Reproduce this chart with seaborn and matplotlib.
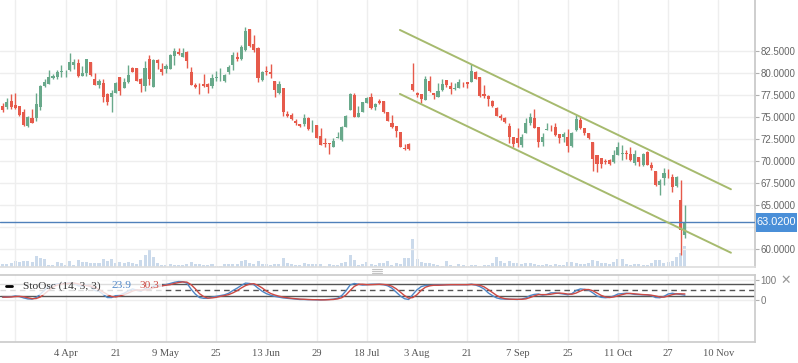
import numpy as np
import pandas as pd
import matplotlib
matplotlib.use("Agg")
import matplotlib.pyplot as plt
import matplotlib.transforms as mtransforms
from matplotlib.lines import Line2D
from matplotlib.patches import Rectangle
import seaborn as sns

# ---- values (one entry per trading day) ----
opens = [
    76.21, 76.06, 76.78, 76.33, 76.21, 75.53, 73.98, 74.89, 74.81, 76.14,
    78.48, 78.75, 79.43, 79.47, 80.11, 80.17, 80.30, 80.87, 81.10, 79.66,
    80.00, 81.21, 79.28, 78.64, 78.83, 77.58, 77.23, 77.73, 79.51, 78.30,
    78.94, 80.53, 80.49, 79.24, 78.52, 81.52, 78.41, 81.44, 80.42, 80.45,
    80.45, 81.89, 82.31, 81.82, 82.39, 80.08, 78.56, 78.41, 78.67, 78.71,
    78.52, 79.43, 79.47, 79.05, 80.08, 80.87, 81.74, 81.52, 82.58, 84.92,
    83.26, 82.77, 79.17, 80.19, 80.11, 79.02, 77.73, 78.26, 75.30, 75.19,
    74.55, 74.17, 74.17, 74.85, 74.02, 74.05, 72.77, 72.00, 72.05, 71.59,
    72.61, 72.35, 73.86, 75.76, 77.46, 75.00, 75.57, 76.59, 77.20, 76.06,
    76.78, 76.78, 75.49, 74.32, 73.94, 73.30, 71.48, 71.86, 78.71, 77.65,
    77.58, 76.89, 79.09, 77.73, 77.27, 78.03, 79.17, 78.48, 78.11, 78.30,
    78.62, 78.98, 78.98, 80.04, 79.47, 77.58, 77.35, 76.78, 75.95, 75.08,
    74.81, 73.94, 72.73, 72.61, 71.78, 73.18, 74.32, 74.81, 73.86, 72.16,
    73.54, 73.73, 73.79, 72.99, 72.65, 72.73, 71.70, 73.48, 74.62, 73.67,
    73.18, 72.17, 70.65, 70.27, 69.93, 70.08, 69.81, 70.65, 70.76, 70.91,
    70.76, 69.70, 70.38, 69.51, 71.03, 69.51, 68.86, 67.22, 68.10, 68.40,
    68.17, 67.15, 65.51, 61.60,
]
highs = [
    76.52, 77.08, 77.58, 77.65, 76.21, 75.83, 75.08, 75.87, 77.65, 78.60,
    79.24, 80.30, 79.85, 80.30, 80.87, 80.30, 82.27, 81.52, 81.55, 80.76,
    81.55, 81.21, 79.92, 79.24, 79.32, 77.73, 78.03, 78.98, 79.51, 79.36,
    80.87, 80.68, 80.57, 79.36, 81.33, 82.01, 81.52, 81.52, 81.06, 80.98,
    82.16, 82.77, 82.84, 82.77, 82.50, 80.64, 78.79, 78.79, 79.85, 78.79,
    79.85, 80.19, 80.49, 79.85, 80.87, 82.39, 82.39, 83.14, 85.15, 84.92,
    84.28, 82.88, 80.23, 80.76, 80.95, 79.02, 79.05, 78.26, 75.64, 75.45,
    74.73, 74.17, 75.27, 74.92, 74.62, 74.05, 73.75, 72.54, 72.05, 72.54,
    73.30, 73.94, 75.19, 77.65, 77.65, 76.21, 76.67, 77.20, 77.73, 76.59,
    77.01, 76.78, 75.49, 75.15, 73.94, 73.30, 71.86, 71.97, 81.14, 77.84,
    77.58, 79.62, 79.62, 77.73, 78.86, 79.24, 79.17, 78.98, 78.86, 79.28,
    78.90, 78.98, 80.98, 80.19, 79.47, 78.60, 77.46, 76.89, 76.06, 75.27,
    74.92, 74.32, 72.73, 73.67, 73.03, 74.81, 75.45, 75.87, 73.86, 73.18,
    74.32, 74.05, 74.24, 72.99, 73.30, 73.56, 73.26, 75.19, 75.00, 73.67,
    73.18, 72.17, 70.65, 70.27, 70.15, 70.15, 71.22, 72.17, 71.79, 71.22,
    71.60, 71.22, 70.38, 70.91, 71.10, 69.89, 68.86, 67.98, 69.13, 69.05,
    68.56, 68.25, 67.79, 64.98,
]
lows = [
    75.57, 75.83, 75.83, 75.91, 75.08, 73.94, 73.86, 74.24, 74.55, 75.76,
    78.33, 78.75, 79.24, 79.32, 79.55, 79.55, 80.19, 80.45, 79.55, 79.66,
    79.62, 79.66, 78.64, 78.26, 76.70, 76.33, 75.57, 77.65, 77.46, 78.22,
    78.86, 80.11, 79.09, 77.84, 77.92, 78.60, 78.41, 80.38, 79.73, 79.92,
    80.38, 80.87, 81.97, 81.74, 80.57, 78.56, 78.22, 77.54, 78.33, 77.73,
    78.22, 79.05, 79.05, 78.98, 79.85, 80.30, 81.36, 81.44, 82.50, 82.95,
    82.39, 78.98, 79.09, 79.73, 79.43, 77.27, 77.54, 75.08, 75.00, 74.62,
    74.05, 73.79, 73.94, 73.48, 73.30, 72.61, 71.78, 71.59, 70.76, 71.52,
    72.54, 72.23, 73.86, 75.76, 75.00, 75.00, 75.57, 76.52, 75.83, 75.76,
    76.44, 75.38, 74.55, 73.67, 72.65, 71.52, 71.21, 71.21, 77.95, 77.20,
    76.52, 76.89, 77.84, 76.97, 77.27, 77.92, 78.41, 77.54, 78.03, 78.22,
    78.33, 78.22, 78.98, 79.24, 77.27, 77.08, 76.21, 76.14, 75.08, 74.62,
    74.24, 71.97, 71.59, 71.59, 71.59, 73.18, 74.05, 73.67, 71.52, 71.70,
    73.48, 73.41, 72.80, 71.97, 72.16, 71.02, 71.59, 73.41, 73.56, 72.92,
    72.42, 68.86, 68.75, 69.13, 69.62, 69.51, 69.77, 70.65, 70.08, 70.15,
    70.00, 69.51, 69.39, 69.43, 69.51, 69.01, 67.11, 66.08, 67.22, 68.10,
    66.46, 67.03, 59.35, 61.20,
]
closes = [
    75.76, 76.67, 76.06, 76.02, 75.19, 74.05, 75.00, 74.32, 76.44, 78.48,
    78.94, 79.51, 79.62, 80.08, 80.19, 80.20, 81.21, 81.21, 79.62, 79.96,
    81.55, 79.73, 78.64, 79.09, 77.27, 76.70, 77.69, 78.83, 77.95, 78.94,
    79.73, 80.11, 79.09, 78.75, 80.53, 79.32, 81.44, 81.14, 80.11, 80.76,
    81.97, 82.46, 82.16, 82.20, 81.36, 78.64, 78.37, 78.33, 78.48, 78.33,
    79.36, 79.51, 79.48, 79.70, 80.61, 81.97, 81.55, 82.92, 84.73, 83.07,
    82.58, 79.43, 80.08, 80.08, 79.81, 78.03, 78.71, 75.57, 75.11, 74.73,
    74.32, 73.94, 74.81, 73.64, 74.07, 72.61, 71.78, 71.95, 71.93, 72.27,
    72.73, 73.83, 75.11, 77.54, 75.00, 75.38, 76.67, 77.08, 75.95, 76.44,
    76.59, 75.49, 74.55, 73.79, 73.41, 71.59, 71.33, 71.29, 78.03, 77.50,
    76.97, 79.28, 77.95, 77.50, 77.95, 78.67, 78.60, 78.11, 78.30, 78.90,
    78.58, 78.67, 80.19, 79.32, 77.35, 77.39, 76.97, 76.21, 75.11, 74.81,
    74.43, 72.73, 71.89, 72.05, 72.73, 74.32, 74.92, 73.75, 72.16, 72.73,
    73.58, 73.69, 72.92, 72.61, 72.99, 71.70, 73.18, 74.70, 73.67, 73.11,
    72.61, 70.19, 69.62, 69.62, 69.86, 69.62, 70.65, 71.60, 70.91, 70.76,
    70.08, 70.76, 69.89, 70.76, 69.51, 69.13, 67.22, 67.72, 68.63, 68.35,
    67.03, 68.17, 62.10, 63.02,
]
# volume, thousands of contracts
volumes = [
    30, 33, 43, 63, 53, 63, 63, 53, 113, 93,
    83, 23, 23, 53, 43, 23, 63, 23, 73, 53,
    53, 43, 43, 43, 83, 63, 83, 43, 53, 43,
    53, 43, 33, 73, 123, 173, 103, 43, 23, 23,
    33, 23, 23, 23, 33, 53, 33, 33, 23, 23,
    33, 13, 13, 33, 33, 33, 33, 63, 73, 43,
    33, 63, 33, 33, 23, 33, 33, 93, 43, 33,
    23, 23, 43, 33, 33, 33, 33, 13, 33, 23,
    23, 43, 53, 123, 73, 23, 33, 53, 33, 23,
    43, 43, 63, 23, 43, 33, 93, 93, 283, 83,
    53, 43, 43, 33, 23, 13, 63, 23, 13, 33,
    23, 13, 23, 23, 13, 23, 23, 43, 103, 63,
    43, 63, 43, 43, 33, 43, 43, 33, 23, 23,
    33, 23, 33, 23, 23, 53, 53, 43, 33, 33,
    43, 73, 63, 43, 43, 33, 53, 83, 83, 33,
    23, 33, 33, 20, 20, 40, 70, 70, 37, 47,
    63, 100, 140, 206,
]
stoch_k = [
    13, 15, 16, 20, 17, 10, 5, 4, 12, 30,
    50, 68, 78, 82, 84, 84, 88, 86, 72, 70,
    78, 66, 48, 44, 28, 12, 12, 22, 26, 34,
    46, 56, 50, 44, 58, 55, 70, 74, 72, 78,
    84, 90, 94, 93, 86, 55, 30, 12, 8, 8,
    14, 18, 22, 26, 34, 48, 60, 74, 86, 84,
    78, 60, 44, 32, 24, 18, 14, 10, 8, 6,
    4, 2, 2, 1, 1, 0, 0, 1, 2, 4,
    8, 22, 46, 76, 84, 80, 76, 78, 80, 80,
    80, 78, 72, 60, 40, 20, 6, 2, 28, 52,
    68, 74, 74, 76, 76, 77, 78, 78, 78, 78,
    78, 78, 80, 76, 68, 56, 36, 22, 10, 5,
    4, 3, 3, 2, 4, 10, 22, 28, 30, 24,
    28, 36, 36, 33, 30, 26, 32, 48, 56, 54,
    50, 36, 20, 13, 11, 13, 20, 30, 32, 34,
    32, 28, 27, 26, 25, 22, 12, 11, 18, 30,
    34, 30, 28, 23.9,
]
stoch_d = [
    14, 14, 15, 17, 18, 16, 11, 6, 7, 15,
    31, 49, 65, 76, 81, 83, 85, 86, 82, 76,
    73, 71, 64, 53, 40, 28, 17, 15, 20, 27,
    35, 45, 51, 50, 51, 52, 61, 66, 72, 75,
    78, 84, 89, 92, 91, 78, 57, 32, 17, 9,
    10, 13, 18, 22, 27, 36, 47, 61, 73, 81,
    83, 74, 61, 45, 33, 25, 19, 14, 11, 8,
    6, 4, 3, 2, 1, 1, 0, 0, 1, 2,
    5, 11, 25, 48, 69, 80, 80, 78, 78, 79,
    80, 79, 77, 70, 57, 40, 22, 9, 12, 27,
    49, 65, 72, 75, 75, 76, 77, 78, 78, 78,
    78, 78, 79, 78, 75, 67, 53, 38, 23, 12,
    6, 4, 3, 3, 3, 5, 12, 20, 27, 27,
    27, 29, 33, 35, 33, 30, 29, 35, 45, 53,
    53, 47, 35, 23, 15, 12, 15, 21, 27, 32,
    33, 31, 29, 27, 26, 24, 20, 15, 14, 20,
    27, 31, 31, 30.3,
]
date_labels = ["", "4 Apr", "21", "9 May", "25", "13 Jun", "29", "18 Jul",
               "3 Aug", "21", "7 Sep", "25", "11 Oct", "27", "10 Nov"]
price_ticks = [60.0, 62.5, 65.0, 67.5, 70.0, 72.5, 75.0, 77.5, 80.0, 82.5]
last_price = 63.02
channel_x = [94.9, 174.0]
channel_upper = [84.85, 66.77]
channel_lower = [77.59, 59.57]

# ---- style ----
sns.set_theme(style="white")
plt.rcParams['font.family'] = ['Liberation Sans', 'DejaVu Sans']

GREEN = '#69a98b'
RED = '#e65a4b'
VOL = '#cbdaeb'
GRID = '#eeeeee'
K_COL = '#4f86c6'
D_COL = '#cc4a44'
CHAN = '#a6ba6e'

W, H = 798, 363
fig = plt.figure(figsize=(W / 100, H / 100), dpi=100)


def px_box(x0, y0, x1, y1):
    return [x0 / W, 1 - y1 / H, (x1 - x0) / W, (y1 - y0) / H]


ax_vol = fig.add_axes(px_box(0, 0, 755, 267))
ax = fig.add_axes(px_box(0, 0, 755, 267), sharex=ax_vol)
ax_st = fig.add_axes(px_box(0, 275.3, 755, 342), sharex=ax_vol)

df = pd.DataFrame({'open': opens, 'high': highs, 'low': lows,
                   'close': closes, 'volume': volumes})
df['idx'] = np.arange(len(df))
up = df['close'] >= df['open']
colors = np.where(up, GREEN, RED)

# volume bars (behind the candles)
ax_vol.bar(df['idx'], df['volume'], width=0.72, color=VOL, linewidth=0)
ax_vol.set_ylim(0, 2670)
ax_vol.axis('off')

# candles
ax.patch.set_visible(False)
ax.vlines(df['idx'], df['low'], df['high'], colors=colors, lw=1.0, zorder=3)
body_low = df[['open', 'close']].min(axis=1)
body_h = (df['close'] - df['open']).abs().clip(lower=0.07)
ax.bar(df['idx'], body_h, bottom=body_low, width=0.74, color=colors,
       linewidth=0, zorder=4)

# trend channel
ax.plot(channel_x, channel_upper, color=CHAN, lw=1.4, zorder=6)
ax.plot(channel_x, channel_lower, color=CHAN, lw=1.4, zorder=6)

ax.set_xlim(-0.657, 179.75)
ax.set_ylim(57.95, 88.25)

# last price line + box (the box hides the tick label behind it)
ax.axhline(last_price, color='#4f80ba', lw=1, zorder=5)
trans = mtransforms.blended_transform_factory(ax.transAxes, ax.transData)
px_per_unit = 267 / (88.25 - 57.95)
box_half = 9.5 / px_per_unit
ax.add_patch(Rectangle((1.0 + 1 / 755, last_price - box_half), 41 / 755,
                       2 * box_half, transform=trans, fc='#4a8fd8', ec='none',
                       zorder=9, clip_on=False))
ax.text(1.0 + 21.5 / 755, last_price, f"{last_price:.4f}", transform=trans,
        ha='center', va='center', color='white', fontsize=7.9,
        zorder=10, clip_on=False)

grid_idx = list(range(3, 172, 12))
ax.set_xticks(grid_idx)
ax_st.set_xticklabels(date_labels)
ax.yaxis.tick_right()
ax.set_yticks(price_ticks)
ax.set_yticklabels(["" if abs(v - last_price) < 1.5 else f"{v:.4f}"
                    for v in price_ticks])
ax.tick_params(axis='y', length=3, width=0.8, color='#b0b0b0', pad=1,
               labelsize=7, labelcolor='#666666')
ax.tick_params(axis='x', length=0, labelbottom=False)
ax.grid(True, color=GRID, lw=1)
ax.set_axisbelow(True)
for s in ['top', 'left']:
    ax.spines[s].set_visible(False)
ax.spines['right'].set_color('#c8c8c8')
ax.spines['bottom'].set_color('#dedede')

# stochastic oscillator panel
st = pd.DataFrame({'idx': df['idx'], 'K': stoch_k, 'D': stoch_d})
sns.lineplot(data=st, x='idx', y='K', ax=ax_st, color=K_COL, lw=1.0, zorder=3)
sns.lineplot(data=st, x='idx', y='D', ax=ax_st, color=D_COL, lw=1.0, zorder=3)
ax_st.set_xlabel('')
ax_st.set_ylabel('')
ax_st.set_ylim(-216, 126)
ax_st.axhline(80, color='#555555', lw=1, zorder=2)
ax_st.axhline(20, color='#555555', lw=1, zorder=2)
ax_st.axhline(50, color='#555555', lw=1, ls=(0, (4, 3)), zorder=2)
ax_st.yaxis.tick_right()
ax_st.set_yticks([0, 100])
ax_st.tick_params(axis='y', length=3, width=0.8, color='#b0b0b0', pad=1,
                  labelsize=7, labelcolor='#777777')
ax_st.tick_params(axis='x', length=0, pad=5, labelsize=7.6,
                  labelcolor='#555555')
for lbl in ax_st.get_xticklabels():
    lbl.set_family('Liberation Serif')
ax_st.grid(True, color=GRID, lw=1)
ax_st.set_axisbelow(True)
ax_st.spines['left'].set_visible(False)
for s in ['top', 'right', 'bottom']:
    ax_st.spines[s].set_color('#cccccc')


def frac_y(y):
    return 1 - (y - 275.3) / 66.7


# legend box (semi-opaque, fades the curves beneath)
ax_st.add_patch(Rectangle((0, frac_y(295)), 162 / 755, frac_y(276) - frac_y(295),
                          transform=ax_st.transAxes, fc='white', ec='none',
                          alpha=0.8, zorder=6))
fig.add_artist(Line2D([6 / W, 12 / W], [1 - 286 / H, 1 - 286 / H],
                      color='black', lw=2))
fig.text(23 / W, 1 - 286 / H, "StoOsc (14, 3, 3)", ha='left', va='center',
         fontsize=8.2, color='#333333', family='Liberation Serif')
fig.text(111 / W, 1 - 286 / H, f"{stoch_k[-1]:.1f}", ha='left', va='center',
         fontsize=8.2, color=K_COL, family='Liberation Serif')
fig.text(139 / W, 1 - 286 / H, f"{stoch_d[-1]:.1f}", ha='left', va='center',
         fontsize=8.2, color=D_COL, family='Liberation Serif')

# panel resize handle and close icon
for yy in [269.3, 271.2, 273.1]:
    fig.add_artist(Line2D([372 / W, 382 / W], [1 - yy / H, 1 - yy / H],
                          color='#c4c4c4', lw=0.8))
fig.text(786 / W, 1 - 280 / H, "\u2715", ha='center', va='center',
         fontsize=9, color='#999999', family='DejaVu Sans')

fig.savefig('out.png', dpi=100)
